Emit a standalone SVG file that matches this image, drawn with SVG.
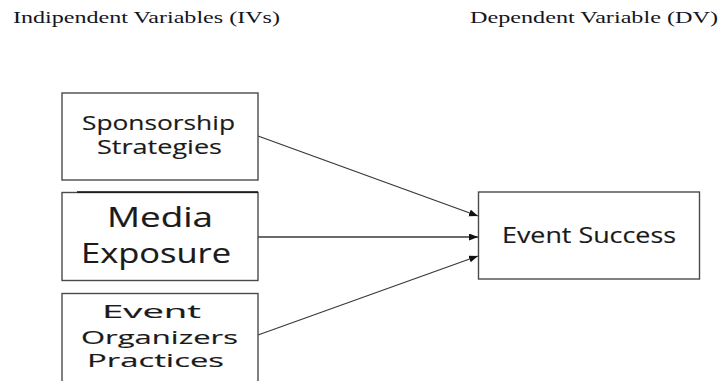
<svg xmlns="http://www.w3.org/2000/svg" width="727" height="381" viewBox="0 0 727 381">
  <style>
    .hdr { font-family: "Liberation Serif", "Times New Roman", serif; font-size: 17.5px; fill: #15151f; }
    .lbl { font-family: "Open Sans", "Noto Sans", "DejaVu Sans", sans-serif; fill: #1a1a1a; stroke: #1a1a1a; stroke-width: 0.15; }
    .box { fill: #ffffff; stroke: #4a4a4a; stroke-width: 1.4; }
    .edge { fill: none; stroke: #3a3a3a; stroke-width: 1.3; marker-end: url(#arrow); }
  </style>
  <defs>
    <marker id="arrow" markerUnits="userSpaceOnUse" markerWidth="10" markerHeight="8" refX="9" refY="3.5" orient="auto">
      <path d="M0,0 L9,3.5 L0,7 z" fill="#111111"/>
    </marker>
  </defs>
  <rect width="727" height="381" fill="#ffffff"/>

  <!-- column headings -->
  <text class="hdr" x="13" y="23" textLength="267" lengthAdjust="spacingAndGlyphs">Indipendent Variables (IVs)</text>
  <text class="hdr" x="470" y="23" textLength="248" lengthAdjust="spacingAndGlyphs">Dependent Variable (DV)</text>

  <!-- connectors -->
  <g id="connectors">
    <line class="edge" x1="258" y1="136" x2="478" y2="216"/>
    <line class="edge" x1="258" y1="237" x2="478" y2="237"/>
    <line class="edge" x1="258" y1="335" x2="478" y2="256"/>
  </g>

  <g id="sponsorship">
    <rect class="box" x="62" y="93" width="196" height="87"/>
    <text class="lbl" font-size="20" x="82" y="130" textLength="153" lengthAdjust="spacingAndGlyphs">Sponsorship</text>
    <text class="lbl" font-size="20" x="97" y="154" textLength="125" lengthAdjust="spacingAndGlyphs">Strategies</text>
  </g>

  <g id="media">
    <rect class="box" x="62" y="192.5" width="196" height="88"/>
    <line x1="77" y1="192" x2="258" y2="192" stroke="#111111" stroke-width="1.6"/>
    <text class="lbl" font-size="27" x="107" y="227" textLength="106" lengthAdjust="spacingAndGlyphs">Media</text>
    <text class="lbl" font-size="27" x="81" y="263" textLength="150" lengthAdjust="spacingAndGlyphs">Exposure</text>
  </g>

  <g id="organizers">
    <rect class="box" x="62" y="293.5" width="196" height="100"/>
    <text class="lbl" font-size="19" x="102" y="318" textLength="99" lengthAdjust="spacingAndGlyphs">Event</text>
    <text class="lbl" font-size="19" x="81" y="344" textLength="157" lengthAdjust="spacingAndGlyphs">Organizers</text>
    <text class="lbl" font-size="19" x="87" y="367" textLength="137" lengthAdjust="spacingAndGlyphs">Practices</text>
  </g>

  <g id="success">
    <rect class="box" x="478.5" y="192" width="221" height="87"/>
    <text class="lbl" font-size="21" x="502" y="243" textLength="174" lengthAdjust="spacingAndGlyphs">Event Success</text>
  </g>
</svg>
